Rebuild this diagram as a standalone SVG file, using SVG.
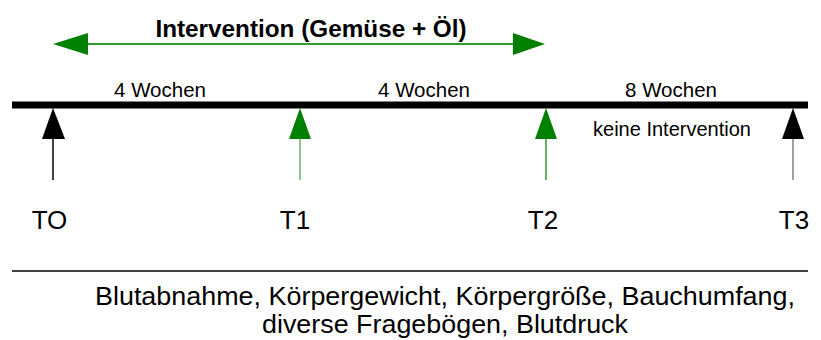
<svg xmlns="http://www.w3.org/2000/svg" width="821" height="340" viewBox="0 0 821 340">
<style>
text{font-family:"Liberation Sans",Arial,sans-serif;fill:#000}
.lbl{font-size:20.5px;text-anchor:middle}
.t{font-size:26px;text-anchor:middle}
.foot{font-size:25px;text-anchor:middle}
.g{fill:#008000}
.k{fill:#000}
</style>
<rect width="821" height="340" fill="#fff"/>
<g id="intervention">
<line x1="80" y1="44" x2="520" y2="44" stroke="#2e9a2e" stroke-width="2"/>
<polygon class="g" points="53,44 88,33 88,55"/>
<polygon class="g" points="545,44 513,33 513,55"/>
<text x="311" y="37" style="font-size:24.3px;font-weight:bold;text-anchor:middle">Intervention (Gemüse + Öl)</text>
</g>
<g id="timeline">
<line x1="12" y1="105" x2="808" y2="105" stroke="#000" stroke-width="7"/>
<text class="lbl" x="160" y="97">4 Wochen</text>
<text class="lbl" x="424" y="97">4 Wochen</text>
<text class="lbl" x="671" y="97">8 Wochen</text>
<text x="672" y="136" style="font-size:20px;text-anchor:middle">keine Intervention</text>
</g>
<g id="connectors">
<line x1="53" y1="138" x2="53" y2="180" stroke="#000" stroke-width="1.5"/>
<line x1="300" y1="138" x2="300" y2="180" stroke="#66b866" stroke-width="1.5"/>
<line x1="546" y1="138" x2="546" y2="180" stroke="#2e9a2e" stroke-width="1.5"/>
<line x1="793" y1="138" x2="793" y2="180" stroke="#808080" stroke-width="1.5"/>
</g>
<g id="T0">
<polygon class="k" points="53,108 42,139 65,139"/>
<text class="t" x="49.5" y="229">TO</text>
</g>
<g id="T1">
<polygon class="g" points="300,108 289,139 311,139"/>
<text class="t" x="295" y="229">T1</text>
</g>
<g id="T2">
<polygon class="g" points="546,108 535,139 557,139"/>
<text class="t" x="543" y="229">T2</text>
</g>
<g id="T3">
<polygon class="k" points="793,108 782,139 804,139"/>
<text class="t" x="794" y="229">T3</text>
</g>
<g id="measures">
<line x1="12" y1="271" x2="808" y2="271" stroke="#000" stroke-width="1.5"/>
<text class="foot" x="445" y="305" textLength="700" lengthAdjust="spacingAndGlyphs">Blutabnahme, Körpergewicht, Körpergröße, Bauchumfang,</text>
<text class="foot" x="445" y="333" textLength="366" lengthAdjust="spacingAndGlyphs">diverse Fragebögen, Blutdruck</text>
</g>
</svg>
